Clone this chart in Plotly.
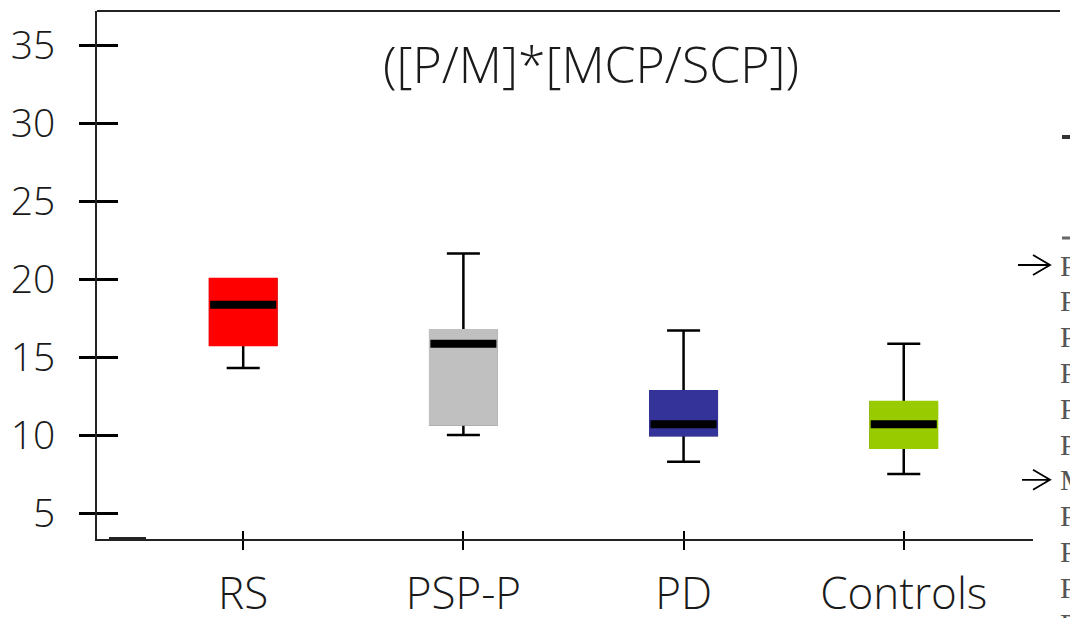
import plotly.graph_objects as go

# ---- data ----
categories = ["RS", "PSP-P", "PD", "Controls"]
lower_whisker = [14.3, 10.0, 8.3, 7.5]
q1 = [15.8, 10.7, 10.0, 9.2]
median = [18.35, 15.85, 10.7, 10.7]
q3 = [20.0, 16.7, 12.8, 12.1]
upper_whisker = [20.0, 21.65, 16.7, 15.85]
y_ticks = [5, 10, 15, 20, 25, 30, 35]
title_text = "([P/M]*[MCP/SCP])"
table_labels = ["P", "P", "P", "P", "P", "P", "M", "P", "P", "P", "P"]
arrow_rows = [0, 6]

# ---- styles ----
box_colors = ["#FF0000", "#C0C0C0", "#333399", "#99CC00"]
FONT = "Open Sans, Noto Sans, sans-serif"
INK = "#1a1a1a"

W, H = 1070, 618
L, R, T, B = 97, 37, 11, 79
YR = [3.34, 37.19]
XR = [-0.664, 3.587]


def px_x(X):
    return (X - L) / (W - L - R)


def px_y(Y):
    return (H - B - Y) / (H - T - B)


fig = go.Figure()

for i, cat in enumerate(categories):
    # whiskers (black)
    fig.add_trace(go.Box(
        x=[cat], q1=[q1[i]], median=[median[i]], q3=[q3[i]],
        lowerfence=[lower_whisker[i]], upperfence=[upper_whisker[i]],
        width=0.3, whiskerwidth=0.5, boxpoints=False,
        line=dict(color="black", width=2.5), fillcolor="rgba(0,0,0,0)",
        showlegend=False, hoverinfo="skip"))
    # coloured box without outline
    fig.add_trace(go.Box(
        x=[cat], q1=[q1[i]], median=[median[i]], q3=[q3[i]],
        lowerfence=[q1[i]], upperfence=[q3[i]],
        width=0.3, whiskerwidth=0, boxpoints=False,
        line=dict(color=box_colors[i], width=3), fillcolor=box_colors[i],
        showlegend=False, hoverinfo="skip"))
    # thick median bar
    fig.add_trace(go.Box(
        x=[cat], q1=[median[i]], median=[median[i]], q3=[median[i]],
        lowerfence=[median[i]], upperfence=[median[i]],
        width=0.3, whiskerwidth=0, boxpoints=False,
        line=dict(color="black", width=8), fillcolor="black",
        showlegend=False, hoverinfo="skip"))

# helper trace for the overlaid axes that draw the inner half of the ticks
fig.add_trace(go.Scatter(x=categories, y=[None] * len(categories),
                         xaxis="x2", yaxis="y2", mode="markers",
                         showlegend=False, hoverinfo="skip"))

fig.update_layout(
    width=W, height=H,
    margin=dict(l=L, r=R, t=T, b=B, pad=0, autoexpand=False),
    paper_bgcolor="white", plot_bgcolor="white",
    boxmode="overlay",
    showlegend=False,
    font=dict(family=FONT, color=INK),
    xaxis=dict(type="category", categoryorder="array", categoryarray=categories,
               range=XR, showgrid=False, zeroline=False, automargin=False,
               showline=True, linecolor="#222", linewidth=2,
               ticks="outside", ticklen=9, tickwidth=2, tickcolor="black",
               tickfont=dict(family=FONT, size=44, color=INK, weight=300),
               ticklabelstandoff=6),
    yaxis=dict(range=YR, tickvals=y_ticks, showgrid=False, zeroline=False,
               automargin=False,
               showline=True, linecolor="#222", linewidth=2,
               ticks="outside", ticklen=16, tickwidth=2.5, tickcolor="black",
               tickfont=dict(family=FONT, size=39, color=INK, weight=300),
               ticklabelstandoff=16),
    xaxis2=dict(type="category", categoryorder="array", categoryarray=categories,
                range=XR, overlaying="x", anchor="y2", side="bottom",
                showgrid=False, zeroline=False, showline=False, automargin=False,
                ticks="inside", ticklen=8, tickwidth=2, tickcolor="black",
                showticklabels=False),
    yaxis2=dict(range=YR, tickvals=y_ticks, overlaying="y", anchor="x2", side="left",
                showgrid=False, zeroline=False, showline=False, automargin=False,
                ticks="inside", ticklen=21, tickwidth=2.5, tickcolor="black",
                showticklabels=False),
)

# title inside the plot area
fig.add_annotation(text=title_text, xref="paper", yref="paper",
                   x=px_x(591), y=px_y(64), xanchor="center", yanchor="middle",
                   showarrow=False,
                   font=dict(family=FONT, size=50, color=INK, weight=300))

# top frame line (extends beyond the plot to the right)
fig.add_shape(type="line", xref="paper", yref="paper",
              x0=0, x1=px_x(1060), y0=1, y1=1,
              line=dict(color="#222", width=2))
# small stray segment near the origin
fig.add_shape(type="line", xref="paper", yref="paper",
              x0=px_x(109), x1=px_x(146), y0=px_y(538), y1=px_y(538),
              line=dict(color="#222", width=2))

# cropped table on the right edge
row_y0, row_step = 265, 35.8
for k, lab in enumerate(table_labels):
    fig.add_annotation(text=lab, xref="paper", yref="paper",
                       x=px_x(1058), y=px_y(row_y0 + k * row_step),
                       xanchor="left", yanchor="middle", showarrow=False,
                       font=dict(family="Liberation Serif, DejaVu Serif, serif",
                                 size=30, color="#555"))
# thin open arrows pointing at table rows
for k, x_start in zip(arrow_rows, [1018, 1022]):
    yy = row_y0 + k * row_step
    path = (f"M {px_x(x_start)} {px_y(yy)} L {px_x(1050)} {px_y(yy)} "
            f"M {px_x(1033)} {px_y(yy - 10)} L {px_x(1050)} {px_y(yy)} "
            f"L {px_x(1033)} {px_y(yy + 10)}")
    fig.add_shape(type="path", xref="paper", yref="paper", path=path,
                  line=dict(color="black", width=1.8))
fig.add_shape(type="line", xref="paper", yref="paper",
              x0=px_x(1062), x1=px_x(1075), y0=px_y(137), y1=px_y(137),
              line=dict(color="#333", width=4))
fig.add_shape(type="line", xref="paper", yref="paper",
              x0=px_x(1062), x1=px_x(1075), y0=px_y(238), y1=px_y(238),
              line=dict(color="#666", width=3))

fig.write_html("out.html")
